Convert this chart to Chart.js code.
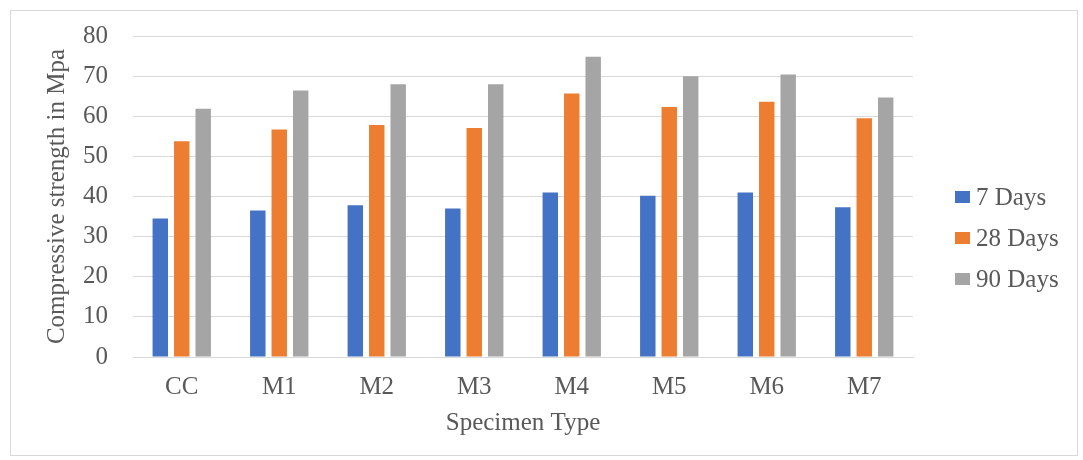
<!DOCTYPE html>
<html>
<head>
<meta charset="utf-8">
<script src="https://cdn.jsdelivr.net/npm/chart.js@4"></script>
<style>
  html, body { margin: 0; padding: 0; background: #fff; }
  #frame { position: absolute; left: 10px; top: 10px; width: 1066px; height: 444px; border: 1px solid #d9d9d9; }
  #wrap { position: absolute; left: 0; top: 0; width: 1083px; height: 460px; }
  #legend { position: absolute; left: 955px; top: 176px; font-family: "Liberation Serif", serif; font-size: 25px; color: #595959; }
  .item { height: 41px; display: flex; align-items: center; white-space: nowrap; }
  .box { width: 15px; height: 12px; margin-right: 6px; }
</style>
</head>
<body>
<div id="frame"></div>
<div id="wrap"><canvas id="strengthChart" width="1083" height="460"></canvas></div>
<div id="legend"></div>
<script>
const categories = ['CC', 'M1', 'M2', 'M3', 'M4', 'M5', 'M6', 'M7'];
const days7 = [34.5, 36.5, 37.8, 37.0, 41.0, 40.2, 41.0, 37.3];
const days28 = [53.8, 56.7, 57.8, 57.1, 65.7, 62.3, 63.6, 59.5];
const days90 = [61.9, 66.4, 68.0, 68.0, 74.8, 70.0, 70.4, 64.7];
const seriesNames = ['7 Days', '28 Days', '90 Days'];
const yTicks = [0, 10, 20, 30, 40, 50, 60, 70, 80];

const colors = ['#4472C4', '#ED7D31', '#A5A5A5'];
const font = { family: '"Liberation Serif", "Times New Roman", serif', size: 25 };
const textColor = '#595959';
const gridColor = '#d9d9d9';

const ctx = document.getElementById('strengthChart').getContext('2d');
const chart = new Chart(ctx, {
    type: 'bar',
    data: {
        labels: categories,
        datasets: [days7, days28, days90].map((d, i) => ({
            label: seriesNames[i],
            data: d,
            backgroundColor: colors[i],
            categoryPercentage: 0.66,
            barPercentage: 0.72
        }))
    },
    options: {
        responsive: false,
        animation: false,
        layout: { padding: { left: 0, right: 170, top: 36, bottom: 0 } },
        plugins: {
            legend: { display: false },
            tooltip: { enabled: false }
        },
        scales: {
            x: {
                grid: { display: false, drawTicks: false },
                border: { display: true, color: gridColor },
                ticks: { color: textColor, font: font, padding: 15 },
                title: {
                    display: true,
                    text: 'Specimen Type',
                    color: textColor,
                    font: font,
                    padding: { top: 0, bottom: 22 }
                },
                afterFit: (scale) => { scale.height = 103; }
            },
            y: {
                min: 0,
                max: 80,
                afterBuildTicks: (scale) => { scale.ticks = yTicks.map(v => ({ value: v })); },
                grid: { color: gridColor, drawTicks: false },
                border: { display: false },
                ticks: { color: textColor, font: font, padding: 25 },
                title: {
                    display: true,
                    text: 'Compressive strength in Mpa',
                    color: textColor,
                    font: font,
                    padding: { top: 42, bottom: 0 }
                },
                afterFit: (scale) => {
                    scale.width = 133;
                    scale.paddingTop = 0;
                    scale.paddingBottom = 0;
                }
            }
        }
    }
});

// legend built from the datasets
const legend = document.getElementById('legend');
chart.data.datasets.forEach(ds => {
    const item = document.createElement('div');
    item.className = 'item';
    const box = document.createElement('span');
    box.className = 'box';
    box.style.background = ds.backgroundColor;
    const label = document.createElement('span');
    label.textContent = ds.label;
    item.appendChild(box);
    item.appendChild(label);
    legend.appendChild(item);
});
</script>
</body>
</html>
